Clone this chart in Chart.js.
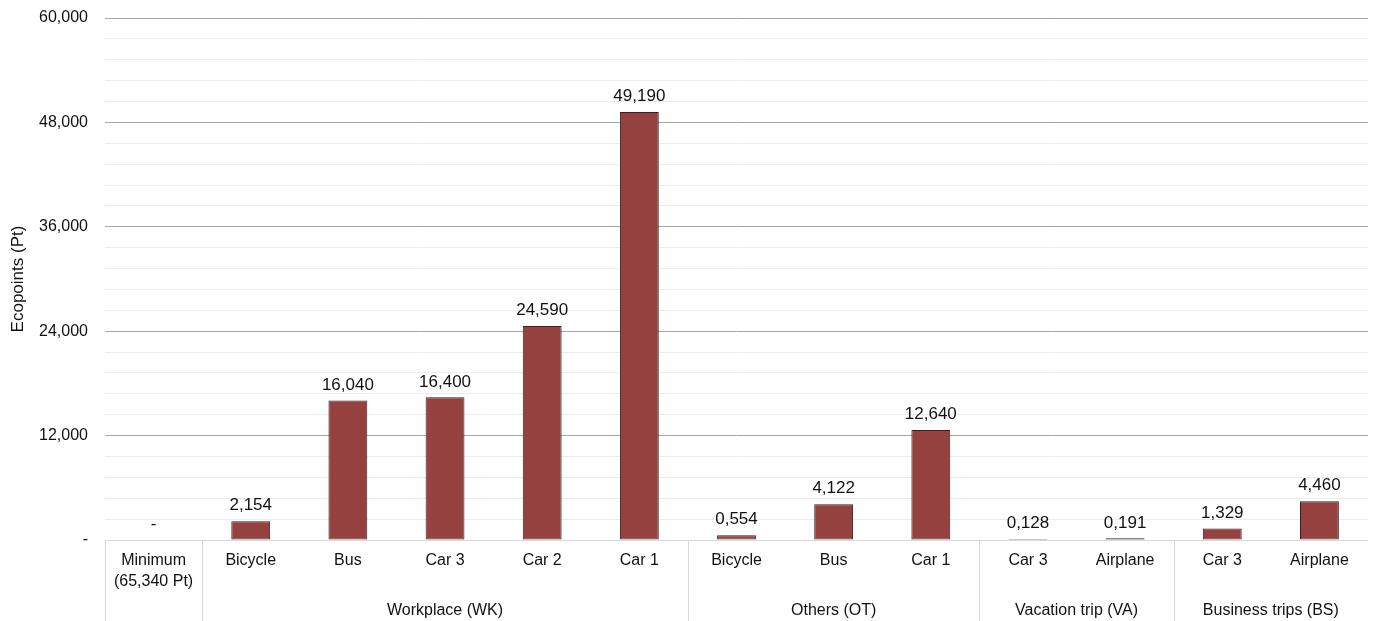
<!DOCTYPE html>
<html>
<head>
<meta charset="utf-8">
<script src="https://cdn.jsdelivr.net/npm/chart.js@4"></script>
<style>
  html, body { margin: 0; padding: 0; background: #fff; }
  #wrap { width: 1373px; height: 621px; }
</style>
</head>
<body>
<div id="wrap"><canvas id="chart"></canvas></div>
<script>
const categories = [['Minimum', '(65,340 Pt)'], 'Bicycle', 'Bus', 'Car 3', 'Car 2', 'Car 1', 'Bicycle', 'Bus', 'Car 1', 'Car 3', 'Airplane', 'Car 3', 'Airplane'];
const values = [0, 2154, 16040, 16400, 24590, 49190, 554, 4122, 12640, 128, 191, 1329, 4460];
const valueLabels = ['-', '2,154', '16,040', '16,400', '24,590', '49,190', '0,554', '4,122', '12,640', '0,128', '0,191', '1,329', '4,460'];
const groupNames = ['', 'Workplace (WK)', 'Others (OT)', 'Vacation trip (VA)', 'Business trips (BS)'];
const groupSizes = [1, 5, 3, 2, 2];
const yMax = 60000;
const yMajor = 12000;
const yMinor = 2400;

const BAR_FILL = '#95413f';
const BAR_EDGE = '#3b2020';
const FONT = 'Liberation Sans, Arial, sans-serif';
const AXIS_LINE = '#d9d9d9';

const fmt = v => v === 0 ? '-' : v.toLocaleString('en-US');

// value labels above bars + two-row category axis with group dividers
const labelsPlugin = {
  id: 'labels',
  afterDatasetsDraw(chart) {
    const ctx = chart.ctx;
    const meta = chart.getDatasetMeta(0);
    ctx.save();
    ctx.font = '17px ' + FONT;
    ctx.fillStyle = '#111';
    ctx.textAlign = 'center';
    ctx.textBaseline = 'bottom';
    meta.data.forEach((bar, i) => {
      ctx.fillText(valueLabels[i], bar.x, bar.y - 7);
    });
    ctx.restore();
  },
  afterDraw(chart) {
    const ctx = chart.ctx;
    const x = chart.scales.x;
    const area = chart.chartArea;
    const bottom = chart.height;
    ctx.save();
    // bottom axis line
    ctx.strokeStyle = AXIS_LINE;
    ctx.lineWidth = 1;
    ctx.beginPath();
    ctx.moveTo(area.left, Math.round(area.bottom) + 0.5);
    ctx.lineTo(area.right, Math.round(area.bottom) + 0.5);
    ctx.stroke();

    // category labels
    ctx.font = '16px ' + FONT;
    ctx.fillStyle = '#111';
    ctx.textAlign = 'center';
    ctx.textBaseline = 'middle';
    categories.forEach((c, i) => {
      const cx = x.getPixelForValue(i);
      const lines = Array.isArray(c) ? c : [c];
      lines.forEach((ln, j) => ctx.fillText(ln, cx, area.bottom + 21 + j * 21));
    });

    // group dividers and labels
    let start = 0;
    groupSizes.forEach((n, g) => {
      const left = start === 0 ? area.left : (x.getPixelForValue(start - 1) + x.getPixelForValue(start)) / 2;
      const px = Math.round(left) + 0.5;
      ctx.beginPath();
      ctx.moveTo(px, area.bottom);
      ctx.lineTo(px, bottom);
      ctx.stroke();
      if (groupNames[g]) {
        const mid = (x.getPixelForValue(start) + x.getPixelForValue(start + n - 1)) / 2;
        ctx.fillText(groupNames[g], mid, area.bottom + 71);
      }
      start += n;
    });
    ctx.restore();
  }
};

new Chart(document.getElementById('chart'), {
  type: 'bar',
  data: {
    labels: categories.map(c => Array.isArray(c) ? c.join(' ') : c),
    datasets: [
      {
        data: values,
        backgroundColor: BAR_FILL,
        borderColor: BAR_EDGE,
        borderWidth: 1,
        borderSkipped: false,
        barPercentage: 0.4,
        categoryPercentage: 1,
      },
    ],
  },
  options: {
    responsive: true,
    maintainAspectRatio: false,
    animation: false,
    layout: { padding: { top: 18, right: 5, left: 0, bottom: 0 } },
    plugins: {
      legend: { display: false },
      tooltip: { enabled: false },
    },
    scales: {
      x: {
        grid: { display: false },
        border: { display: false },
        ticks: { display: false },
        afterFit: axis => { axis.height = 81; },
      },
      y: {
        min: 0,
        max: yMax,
        border: { display: false },
        grid: {
          drawTicks: true,
          tickLength: 14,
          tickColor: 'rgba(0,0,0,0)',
          color: ctx => (ctx.tick && ctx.tick.value % yMajor === 0) ? (ctx.tick.value === 0 ? 'rgba(0,0,0,0)' : '#a6a6a6') : '#ececec',
          lineWidth: 1,
        },
        ticks: {
          stepSize: yMinor,
          autoSkip: false,
          padding: 3,
          color: '#111',
          font: { family: FONT, size: 16 },
          callback: v => v % yMajor === 0 ? fmt(v) : '',
        },
        title: {
          display: true,
          text: 'Ecopoints (Pt)',
          color: '#111',
          font: { family: FONT, size: 17 },
          padding: { top: 8, bottom: 0 },
        },
        afterFit: axis => { axis.width = 105; },
      },
    },
  },
  plugins: [labelsPlugin],
});
</script>
</body>
</html>
